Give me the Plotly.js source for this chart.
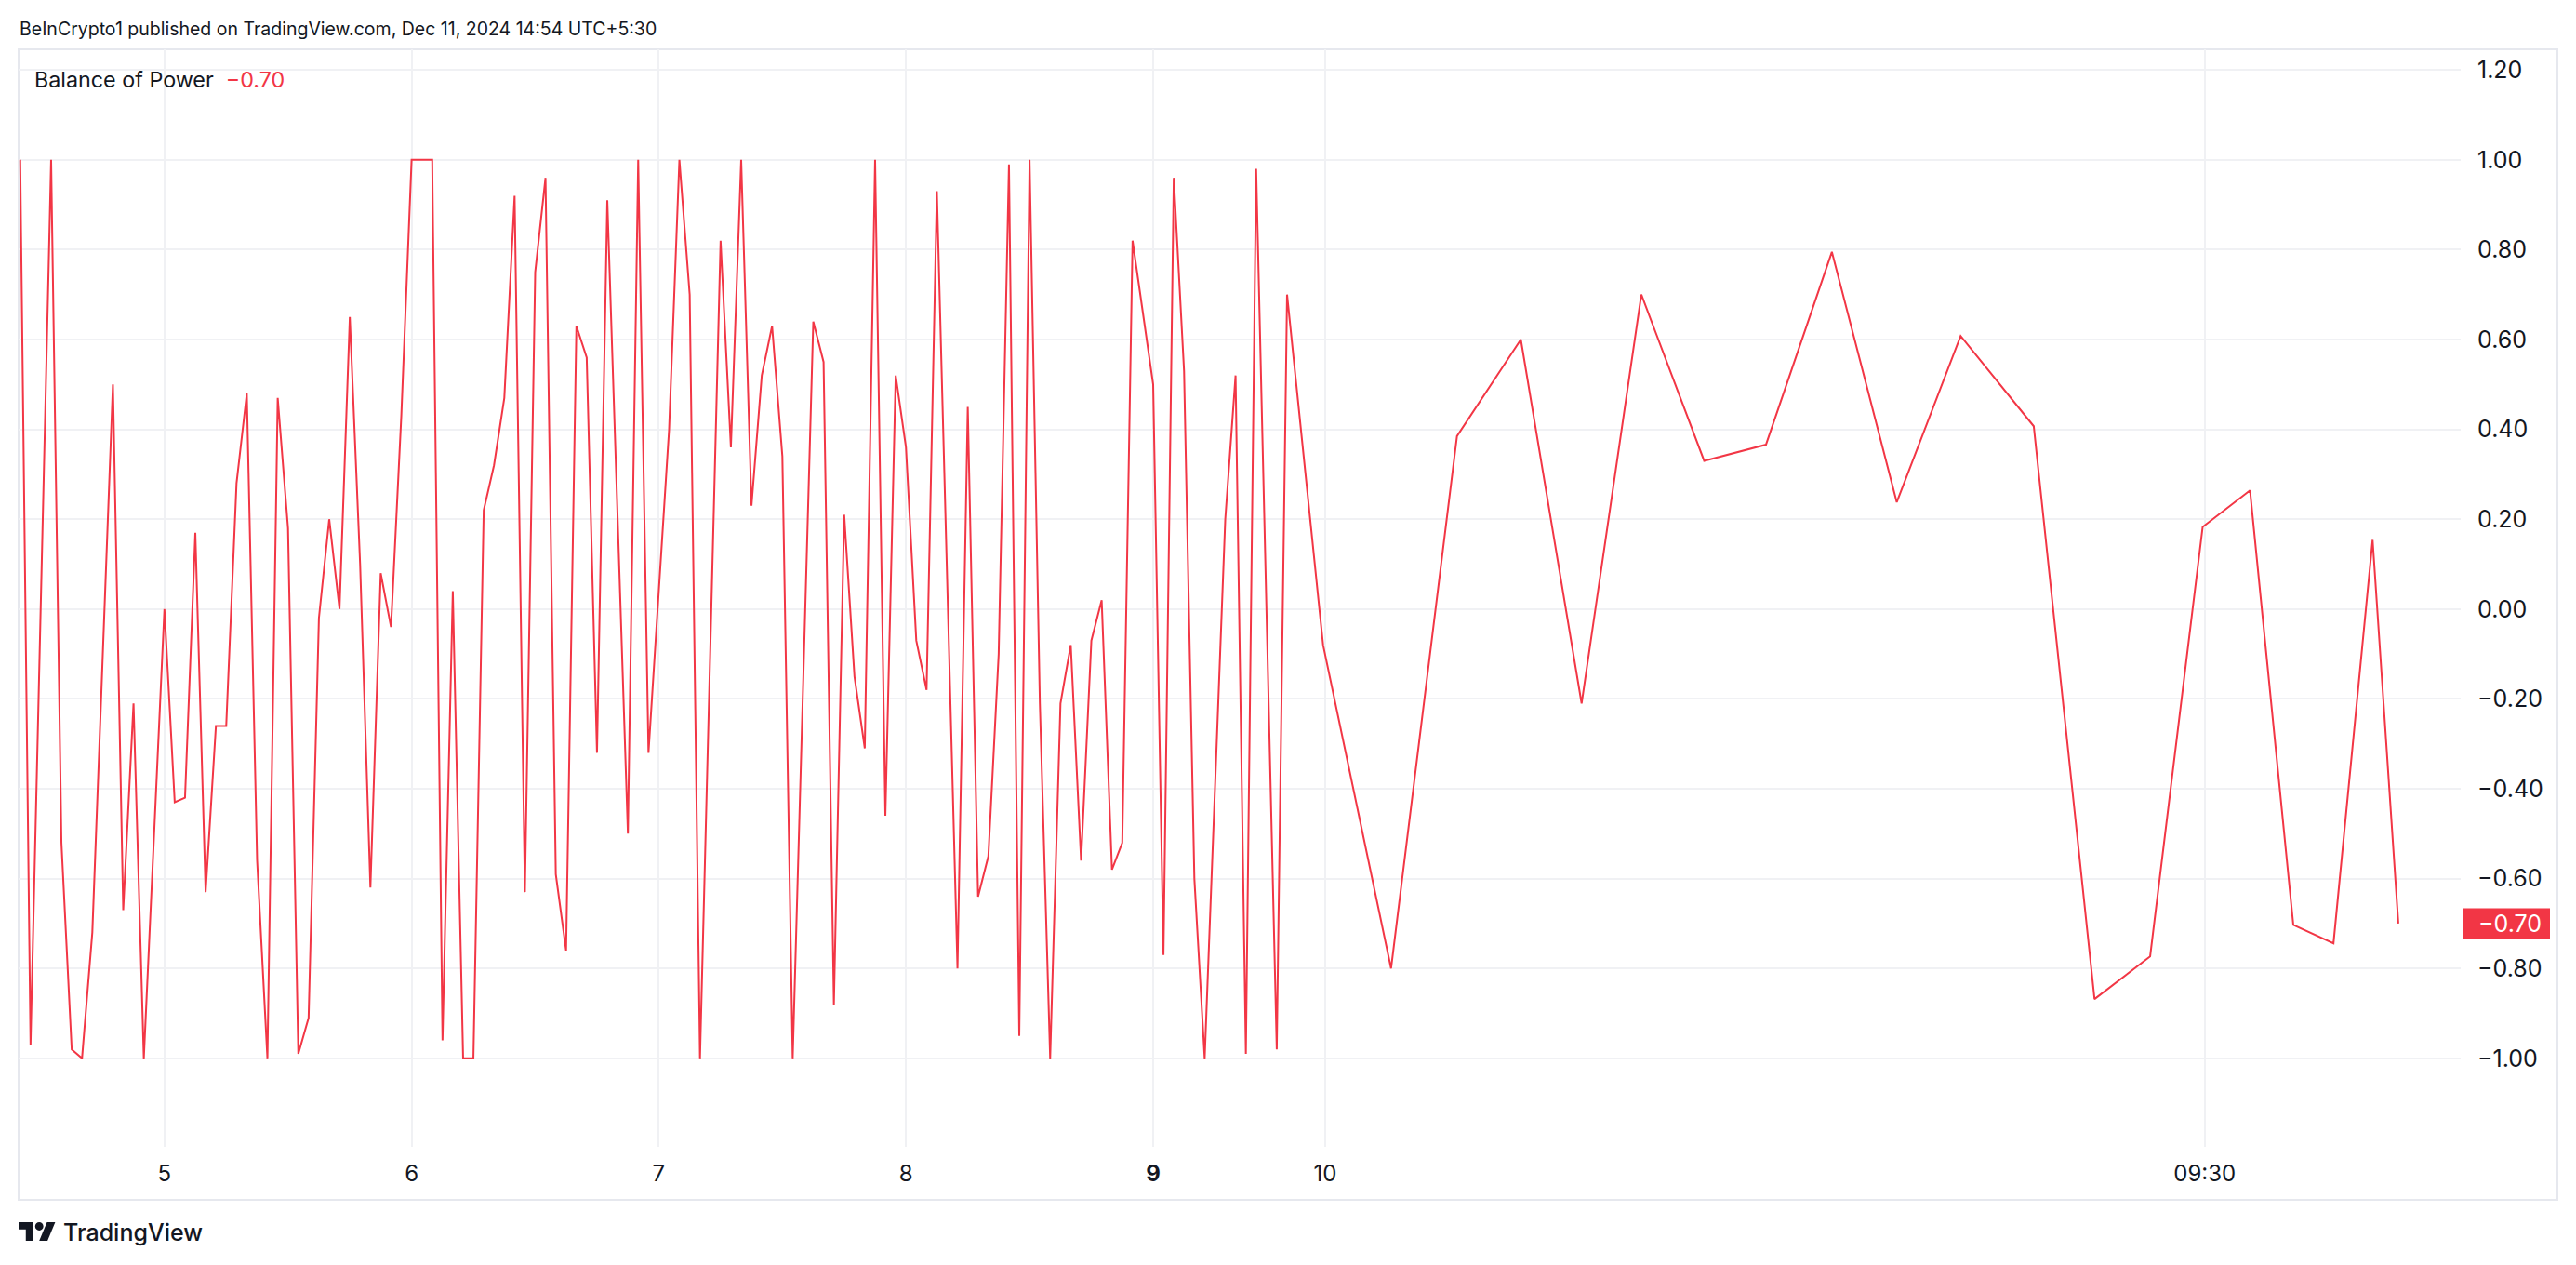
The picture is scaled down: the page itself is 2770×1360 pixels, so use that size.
<!DOCTYPE html>
<html>
<head>
<meta charset="utf-8">
<script src="https://cdn.plot.ly/plotly-3.0.1.min.js"></script>
<style>html,body{margin:0;padding:0;background:#fff;}#chart{width:2770px;height:1360px;}</style>
</head>
<body>
<div id="chart"></div>
<script>
// ---- Data (x = hours since Dec 5 00:00 along the chart's time scale) ----
const X_HOURS = [
  -14, -13, -11, -10, -9, -8, -7, -5, -4, -3, -2, 0, 1, 2, 3, 4, 5, 6, 7, 8,
  9, 10, 11, 12, 13, 14, 15, 16, 17, 18, 19, 20, 21, 22, 23, 24, 26, 27, 28, 29,
  30, 31, 32, 33, 34, 35, 36, 37, 38, 39, 40, 41, 42, 43, 45, 46, 47, 49, 50, 51,
  52, 54, 55, 56, 57, 58, 59, 60, 61, 63, 64, 65, 66, 67, 68, 69, 70, 71, 72, 73,
  74, 75, 77, 78, 79, 80, 81, 82, 83, 84, 85, 86, 87, 88, 89, 90, 91, 92, 93, 94,
  96, 97, 98, 99, 100, 101, 103, 104, 105, 106, 108, 109, 112.5, 119.1, 125.5, 131.7,
  137.6, 143.4, 149.5, 155.5, 161.9, 168.2, 174.4, 181.5, 187.4, 192.8, 197.9, 202.5,
  206.7, 210.6, 214.4, 216.9
];
const BOP = [
  1.00, -0.97, 1.00, -0.52, -0.98, -1.00, -0.72, 0.50, -0.67, -0.21, -1.00, 0.00, -0.43, -0.42, 0.17, -0.63, -0.26, -0.26, 0.28, 0.48,
  -0.56, -1.00, 0.47, 0.18, -0.99, -0.91, -0.02, 0.20, 0.00, 0.65, 0.10, -0.62, 0.08, -0.04, 0.43, 1.00, 1.00, -0.96, 0.04, -1.00,
  -1.00, 0.22, 0.32, 0.47, 0.92, -0.63, 0.75, 0.96, -0.59, -0.76, 0.63, 0.56, -0.32, 0.91, -0.50, 1.00, -0.32, 0.40, 1.00, 0.70,
  -1.00, 0.82, 0.36, 1.00, 0.23, 0.52, 0.63, 0.34, -1.00, 0.64, 0.55, -0.88, 0.21, -0.15, -0.31, 1.00, -0.46, 0.52, 0.36, -0.07,
  -0.18, 0.93, -0.80, 0.45, -0.64, -0.55, -0.10, 0.99, -0.95, 1.00, -0.21, -1.00, -0.21, -0.08, -0.56, -0.07, 0.02, -0.58, -0.52, 0.82,
  0.50, -0.77, 0.96, 0.53, -0.60, -1.00, 0.20, 0.52, -0.99, 0.98, -0.98, 0.70, -0.08, -0.80, 0.385, 0.60,
  -0.21, 0.70, 0.33, 0.366, 0.795, 0.238, 0.608, 0.407, -0.868, -0.773, 0.183, 0.264,
  -0.703, -0.744, 0.154, -0.70
];
const X_TICK_VALS = [0, 24, 48, 72, 96, 112.7, 198.1];
const X_TICK_TEXT = ['5', '6', '7', '8', '<b>9</b>', '10', '09:30'];
const Y_TICK_VALS = [-1.0, -0.8, -0.6, -0.4, -0.2, 0.0, 0.2, 0.4, 0.6, 0.8, 1.0, 1.2];
const INDICATOR_NAME = 'Balance of Power';
const HEADER_TEXT = 'BeInCrypto1 published on TradingView.com, Dec 11, 2024 14:54 UTC+5:30';
const BRAND_TEXT = 'TradingView';

// ---- Styling / geometry ----
const W = 2770, H = 1360;
const M = {l: 20, r: 124, t: 53, b: 127};
const PW = W - M.l - M.r, PH = H - M.t - M.b;
const px = x => (x - M.l) / PW;            // pixel -> paper x
const py = y => (H - M.b - y) / PH;        // pixel -> paper y
const RED = '#f23645';
const TXT = '#131722';
const FONT = 'Inter, Roboto, "Noto Sans", sans-serif';

const fmt = v => v.toFixed(2).replace('-', '\u2212');
const lastVal = BOP[BOP.length - 1];

const trace = {
  x: X_HOURS, y: BOP, type: 'scatter', mode: 'lines',
  line: {color: RED, width: 2}, hoverinfo: 'skip', showlegend: false
};

// TradingView logo (viewBox units, y from 4 to 22)
const LOGO_X0 = 20, LOGO_Y0 = 1314, LOGO_S = 1.11;
const lx = u => px(LOGO_X0 + u * LOGO_S);
const ly = v => py(LOGO_Y0 + (v - 4) * LOGO_S);
const poly = pts => 'M' + pts.map(p => lx(p[0]) + ',' + ly(p[1])).join(' L') + ' Z';

const shapes = [
  // outer frame
  {type: 'rect', xref: 'paper', yref: 'paper', x0: px(20), x1: px(2750), y0: py(1290), y1: py(53),
   line: {color: '#e6e8ee', width: 2}, fillcolor: 'rgba(0,0,0,0)', layer: 'below'},
  // last value badge on price scale
  {type: 'rect', xref: 'paper', yref: 'y', x0: px(2648), x1: px(2742),
   y0: lastVal - 16.5 / (PH / 2.443), y1: lastVal + 16.5 / (PH / 2.443),
   line: {width: 0}, fillcolor: RED},
  // logo
  {type: 'path', xref: 'paper', yref: 'paper', path: poly([[0,4],[14,4],[14,22],[7,22],[7,11],[0,11]]), fillcolor: TXT, line: {width: 0}},
  {type: 'path', xref: 'paper', yref: 'paper', path: poly([[27.5,4],[35.5,4],[28,22],[20,22]]), fillcolor: TXT, line: {width: 0}},
  {type: 'circle', xref: 'paper', yref: 'paper', x0: lx(16), x1: lx(24), y0: ly(12), y1: ly(4), fillcolor: TXT, line: {width: 0}}
];

const annotations = [
  {xref: 'paper', yref: 'paper', x: px(19), y: py(31), xanchor: 'left', yanchor: 'middle', showarrow: false,
   text: HEADER_TEXT, font: {family: FONT, size: 19.5, color: TXT}},
  {xref: 'paper', yref: 'paper', x: px(35), y: py(85), xanchor: 'left', yanchor: 'middle', showarrow: false,
   text: INDICATOR_NAME + '&nbsp;&nbsp;<span style="color:' + RED + '">' + fmt(lastVal) + '</span>',
   font: {family: FONT, size: 23.3, color: TXT}},
  {xref: 'paper', yref: 'y', x: px(2663), y: lastVal, xanchor: 'left', yanchor: 'middle', showarrow: false,
   text: fmt(lastVal), font: {family: FONT, size: 25, color: '#ffffff'}},
  {xref: 'paper', yref: 'paper', x: px(66), y: py(1325), xanchor: 'left', yanchor: 'middle', showarrow: false,
   text: BRAND_TEXT, font: {family: FONT, size: 25, color: TXT, weight: 500}}
];

const layout = {
  width: W, height: H,
  margin: M,
  paper_bgcolor: '#ffffff', plot_bgcolor: '#ffffff',
  showlegend: false,
  xaxis: {
    range: [(20 - 176.8) / 11.075, (2646 - 176.8) / 11.075],
    tickmode: 'array', tickvals: X_TICK_VALS, ticktext: X_TICK_TEXT,
    showgrid: true, gridcolor: '#f0f1f4', gridwidth: 2,
    zeroline: false, showline: false, ticks: '',
    ticklabelstandoff: 12,
    tickfont: {family: FONT, size: 24, color: TXT}, fixedrange: true
  },
  yaxis: {
    side: 'right',
    range: [-1.197, 1.246],
    tickmode: 'array', tickvals: Y_TICK_VALS, ticktext: Y_TICK_VALS.map(fmt),
    showgrid: true, gridcolor: '#f0f1f4', gridwidth: 2,
    zeroline: false, showline: false, ticks: '',
    ticklabelstandoff: 17,
    tickfont: {family: FONT, size: 25, color: TXT}, fixedrange: true
  },
  shapes: shapes,
  annotations: annotations
};

Plotly.newPlot('chart', [trace], layout, {displayModeBar: false, staticPlot: true});
</script>
</body>
</html>
